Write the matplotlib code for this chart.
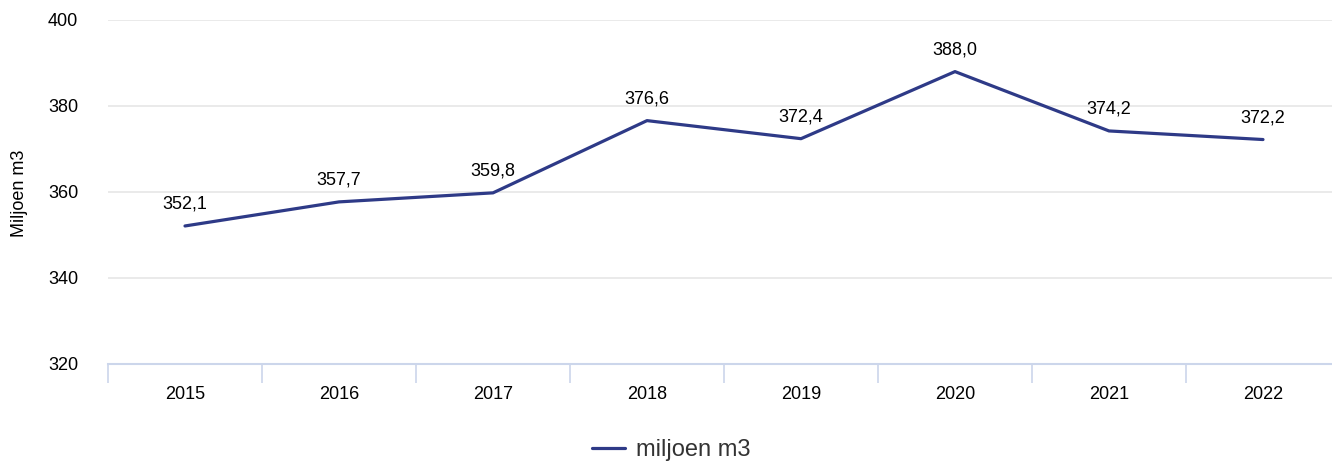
import matplotlib
matplotlib.use("Agg")
import matplotlib.pyplot as plt
import numpy as np

years = ["2015", "2016", "2017", "2018", "2019", "2020", "2021", "2022"]
values = [352.1, 357.7, 359.8, 376.6, 372.4, 388.0, 374.2, 372.2]
labels = ["352,1", "357,7", "359,8", "376,6", "372,4", "388,0", "374,2", "372,2"]
yticks = [320, 340, 360, 380, 400]
series_name = "miljoen m3"

plt.rcParams['font.family'] = ['Liberation Sans', 'DejaVu Sans']

W, H = 1332, 463
fig = plt.figure(figsize=(W / 100, H / 100), dpi=100)
ax = fig.add_axes([108 / W, (H - 364) / H, 1232 / W, 344 / H])

x = np.arange(len(years))
line, = ax.plot(x, values, color="#2E3A87", lw=2.3, solid_capstyle="round", zorder=3)
for xi, v, lab in zip(x, values, labels):
    ax.annotate(lab, (xi, v), xytext=(0, 9.5), textcoords="offset points",
                ha="center", va="bottom", fontsize=13, color="#000000")

ax.set_xlim(-0.5, len(years) - 0.5)
ax.set_ylim(320, 400)
ax.set_yticks(yticks)
ax.set_yticklabels([str(t) for t in yticks])
ax.yaxis.grid(True, color="#e6e6e6", lw=1.2)
ax.set_axisbelow(True)
for s in ["top", "right", "left"]:
    ax.spines[s].set_visible(False)
ax.spines["bottom"].set_color("#ccd6eb")
ax.spines["bottom"].set_linewidth(1.5)
ax.tick_params(axis="y", length=0, pad=21.5, labelsize=13, labelcolor="#000000")

ax.set_xticks(x)
ax.set_xticklabels(years)
ax.tick_params(axis="x", which="major", length=0, pad=15.5, labelsize=13, labelcolor="#000000")
ax.set_xticks(np.arange(-0.5, len(years)), minor=True)
ax.tick_params(axis="x", which="minor", length=14, width=1.2, color="#ccd6eb")

fig.text(20 / W, 1 - 193 / H, "Miljoen m3", rotation=90, ha="center", va="center",
         fontsize=13, color="#000000")

leg = fig.legend([line], [series_name], loc="center", bbox_to_anchor=(671 / W, 1 - 450 / H),
                 frameon=False, fontsize=17, handlelength=1.4, handletextpad=0.45)
for t in leg.get_texts():
    t.set_color("#333333")

fig.savefig("out.png", dpi=100, facecolor="white")
